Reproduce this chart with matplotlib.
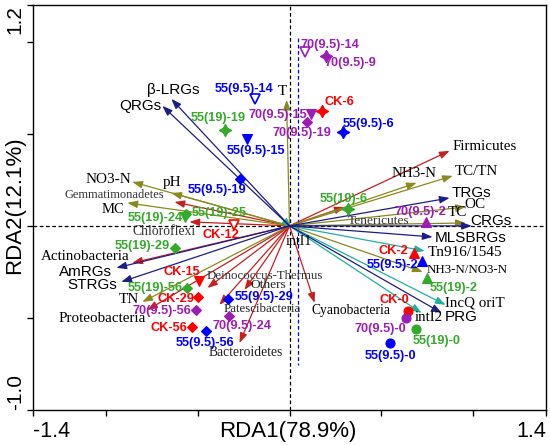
import matplotlib
matplotlib.use("Agg")
import matplotlib.pyplot as plt

# ---------------- data ----------------
# ARGs (navy arrows)
arg_names = ["β-LRGs", "QRGs", "TRGs", "CRGs", "MLSBRGs", "PRG", "AmRGs", "STRGs"]
arg_x = [-0.645, -0.694, 0.874, 0.995, 0.781, 0.831, -0.945, -0.918]
arg_y = [0.690, 0.652, 0.152, 0.000, -0.060, -0.473, -0.228, -0.304]

# bacterial phyla (red arrows)
phy_names = ["Firmicutes", "Gemmatimonadetes", "Chloroflexi", "Actinobacteria",
             "Proteobacteria", "Deinococcus-Thermus", "Others", "Patescibacteria",
             "Bacteroidetes", "Cyanobacteria", "Tenericutes"]
phy_x = [0.874, -0.628, -0.546, -0.858, -0.776, -0.448, -0.246, -0.383, -0.273, 0.137, 0.301]
phy_y = [0.408, 0.130, 0.022, -0.201, -0.457, -0.337, -0.348, -0.429, -0.636, -0.418, 0.103]

# environmental factors (olive arrows)
env_names = ["T", "NO3-N", "pH", "MC", "NH3-N", "TC/TN", "OC", "TC", "TN", "NH3-N/NO3-N"]
env_x = [-0.016, -0.858, -0.645, -0.885, 0.694, 0.891, 0.962, 0.962, -0.803, 0.727]
env_y = [0.685, 0.239, 0.179, 0.125, 0.234, 0.272, 0.103, 0.016, -0.413, -0.250]

# MGEs (teal arrows)
mge_names = ["Tn916/1545", "IncQ oriT", "intI2", "intI1"]
mge_x = [0.738, 0.852, 0.721, 0.011]
mge_y = [-0.136, -0.429, -0.473, -0.011]

# samples
samp_names = ["CK-0", "70(9.5)-0", "55(19)-0", "55(9.5)-0",
              "CK-2", "55(9.5)-2", "55(19)-2", "70(9.5)-2",
              "CK-6", "55(9.5)-6", "55(19)-6", "70(9.5)-9",
              "70(9.5)-14", "55(9.5)-14", "55(9.5)-15", "70(9.5)-15",
              "70(9.5)-19", "55(19)-19", "55(9.5)-19", "55(19)-24",
              "55(19)-25", "70(9.5)-24", "CK-12", "CK-15",
              "55(19)-29", "CK-29", "55(9.5)-29", "55(19)-56",
              "70(9.5)-56", "CK-56", "55(9.5)-56"]
samp_x = [0.645, 0.634, 0.689, 0.546,
          0.678, 0.721, 0.749, 0.743,
          0.175, 0.290, 0.317, 0.197,
          0.087, -0.186, -0.230, 0.115,
          0.098, -0.350, -0.268, -0.568,
          -0.563, -0.328, -0.301, -0.492,
          -0.623, -0.497, -0.333, -0.557,
          -0.508, -0.530, -0.454]
samp_y = [-0.462, -0.500, -0.560, -0.636,
          -0.147, -0.190, -0.283, 0.022,
          0.625, 0.511, 0.092, 0.924,
          0.946, 0.690, 0.473, 0.609,
          0.565, 0.522, 0.255, 0.049,
          0.065, -0.489, 0.005, -0.299,
          -0.120, -0.386, -0.397, -0.337,
          -0.457, -0.549, -0.571]

x_label = "RDA1(78.9%)"
y_label = "RDA2(12.1%)"

# ---------------- styles ----------------
C_NAVY = "#1c1c8a"
C_RED = "#c81e1e"
C_OLIVE = "#8a8a1c"
C_TEAL = "#1fb0a0"
group_color = {"CK": "#ff0000", "55(9.5)": "#0000ff", "55(19)": "#33aa2a", "70(9.5)": "#9c1cb4"}

STAR4 = (4, 1, 0)
def marker_of(name):
    day = name.split("-")[-1]
    if name in ("55(19)-19",):
        return STAR4, 9, True
    if day == "0":
        return "o", 6.5, True
    if day == "2":
        return "^", 6.5, True
    if day in ("6", "9"):
        return STAR4, 9, True
    if name in ("70(9.5)-14", "55(9.5)-14", "CK-12"):
        return "v", 6.5, False
    if name in ("55(9.5)-15", "70(9.5)-15", "55(19)-24", "CK-15"):
        return "v", 6.5, True
    return "D", 5.5, True

def group_of(name):
    return name.rsplit("-", 1)[0]

# label offsets in pixels (dx, dy up), horizontal alignment
samp_lab = {
    "CK-0": (-13, 11, "center"), "70(9.5)-0": (1, -11, "right"),
    "55(19)-0": (-3, -12, "left"), "55(9.5)-0": (1, -13, "center"),
    "CK-2": (-5, 2, "right"), "55(9.5)-2": (-3, -4, "right"),
    "55(19)-2": (3, -10, "left"), "70(9.5)-2": (-5, 10, "center"),
    "CK-6": (3, 9, "left"), "55(9.5)-6": (0, 8, "left"),
    "55(19)-6": (-4, 10, "center"), "70(9.5)-9": (-1, -7, "left"),
    "70(9.5)-14": (-5, 7, "left"), "55(9.5)-14": (-11, 10, "center"),
    "55(9.5)-15": (9, -12, "center"), "70(9.5)-15": (-3, -1, "right"),
    "70(9.5)-19": (-6, -11, "center"), "55(19)-19": (-7, 12, "center"),
    "55(9.5)-19": (-23, -11, "center"), "55(19)-24": (-3, -1, "right"),
    "55(19)-25": (5, 1, "left"), "70(9.5)-24": (13, -10, "center"),
    "CK-12": (-13, -10, "center"), "CK-15": (-18, 9, "center"),
    "55(19)-29": (-6, 2, "right"), "CK-29": (-4, -2, "right"),
    "55(9.5)-29": (6, 2, "left"), "55(19)-56": (-5, 0, "right"),
    "70(9.5)-56": (-5, -1, "right"), "CK-56": (-5, -1, "right"),
    "55(9.5)-56": (-1, -12, "center"),
}

# arrow label: (dx, dy, ha, family, size, color)
SANS = "Liberation Sans"
SERIF = "Liberation Serif"
arr_lab = {
    "β-LRGs": (2, 9, "center", SANS, 11, "black"),
    "QRGs": (-1, 0, "right", SANS, 11, "black"),
    "TRGs": (2, 5, "left", SANS, 11, "black"),
    "CRGs": (-2, 5, "left", SANS, 11, "black"),
    "MLSBRGs": (2, -1, "left", SANS, 11, "black"),
    "PRG": (3, -4, "left", SANS, 11, "black"),
    "AmRGs": (-4, -4, "right", SANS, 11, "black"),
    "STRGs": (-4, -3, "right", SANS, 11, "black"),
    "Firmicutes": (3, 4, "left", SERIF, 10.8, "black"),
    "Gemmatimonadetes": (-10, 7, "right", SERIF, 9, "#333333"),
    "Chloroflexi": (-25, -10, "center", SERIF, 9.8, "#333333"),
    "Actinobacteria": (-3, 6, "right", SERIF, 10.8, "black"),
    "Proteobacteria": (-1, -8, "right", SERIF, 10.8, "black"),
    "Deinococcus-Thermus": (-1, 12, "left", SERIF, 9.3, "#333333"),
    "Others": (6, 5, "left", SERIF, 9.7, "#222222"),
    "Patescibacteria": (4, -4, "left", SERIF, 9.3, "#222222"),
    "Bacteroidetes": (6, -10, "center", SERIF, 9.8, "#222222"),
    "Cyanobacteria": (-3, -8, "left", SERIF, 9.8, "black"),
    "Tenericutes": (3, -14, "left", SERIF, 9.6, "#333333"),
    "T": (-4, 8, "center", SERIF, 11, "black"),
    "NO3-N": (-1, 2, "right", SERIF, 11, "black"),
    "pH": (1, 10, "center", SERIF, 11, "black"),
    "MC": (-3, -7, "right", SERIF, 10.5, "black"),
    "NH3-N": (-3, 9, "center", SERIF, 10.8, "black"),
    "TC/TN": (2, 4, "left", SERIF, 10.8, "black"),
    "OC": (-1, 2, "left", SERIF, 11, "black"),
    "TC": (1, 10, "right", SERIF, 11, "black"),
    "TN": (-3, 2, "right", SERIF, 11, "black"),
    "NH3-N/NO3-N": (4, 2, "left", SERIF, 9.3, "black"),
    "Tn916/1545": (3, -2, "left", SERIF, 11, "black"),
    "IncQ oriT": (-1, 2, "left", SERIF, 10.8, "black"),
    "intI2": (-7, -5, "left", SERIF, 10.8, "black"),
    "intI1": (-6, -14, "left", SERIF, 10, "black"),
}

# ---------------- figure ----------------
fig = plt.figure(figsize=(5.5, 4.45), dpi=100)
ax = fig.add_axes([33 / 550, 1 - 410 / 445, (546 - 33) / 550, (410 - 5) / 445])
ax.set_xlim(-1.4, 1.4)
ax.set_ylim(-1.0, 1.2)

# reference lines
ax.axhline(0, color="black", lw=0.9, ls=(0, (3, 2)), zorder=1)
ax.axvline(0, color="black", lw=0.9, ls=(0, (3, 2)), zorder=1)
ax.plot([0.044, 0.044], [1.02, -0.755], color="#0000ff", lw=0.9, ls=(0, (3, 2)), zorder=1)

def draw_arrows(names, xs, ys, color):
    for n, x, y in zip(names, xs, ys):
        ax.annotate("", xy=(x, y), xytext=(0, 0),
                    arrowprops=dict(arrowstyle="-|>,head_length=0.6,head_width=0.22",
                                    color=color, lw=0.9, shrinkA=0, shrinkB=0),
                    zorder=2)
        dx, dy, ha, fam, sz, col = arr_lab[n]
        ax.annotate(n, xy=(x, y), xytext=(dx, dy), textcoords="offset pixels",
                    ha=ha, va="center", fontfamily=fam, fontsize=sz, color=col, zorder=4)

draw_arrows(phy_names, phy_x, phy_y, C_RED)
draw_arrows(env_names, env_x, env_y, C_OLIVE)
draw_arrows(mge_names, mge_x, mge_y, C_TEAL)
draw_arrows(arg_names, arg_x, arg_y, C_NAVY)

for n, x, y in zip(samp_names, samp_x, samp_y):
    c = group_color[group_of(n)]
    m, ms, filled = marker_of(n)
    ax.plot([x], [y], marker=m, ms=ms, color=c, mfc=c if filled else "white",
            mec=c, mew=1.2 if not filled else 0.8, ls="none", zorder=5)
    dx, dy, ha = samp_lab[n]
    ax.annotate(n, xy=(x, y), xytext=(dx, dy), textcoords="offset pixels",
                ha=ha, va="center", fontfamily=SANS, fontweight="bold",
                fontsize=9.2, color=c, zorder=6)

# axes styling
for s in ax.spines.values():
    s.set_linewidth(1.0)
ax.set_xticks([-1.4, -1.0, -0.5, 0, 0.5, 1.0, 1.4])
ax.set_xticklabels(["-1.4", "", "", "", "", "", "1.4"], fontfamily=SANS, fontsize=15.5)
ax.set_yticks([-1.0, -0.5, 0, 0.5, 1.0, 1.2])
ax.set_yticklabels(["-1.0", "", "", "", "", "1.2"], fontfamily=SANS, fontsize=15,
                   rotation=90)
xl = ax.get_xticklabels()
xl[0].set_ha("left")
xl[-1].set_ha("right")
yl = ax.get_yticklabels()
yl[0].set_va("bottom")
yl[-1].set_va("top")
ax.tick_params(direction="out", length=4, width=1)
ax.tick_params(axis="x", pad=4)
ax.tick_params(axis="y", pad=2)

fig.text(288 / 550, 1 - 432 / 445, x_label, ha="center", va="center",
         fontfamily=SANS, fontsize=16)
fig.text(15 / 550, 1 - 205 / 445, y_label, ha="center", va="center", rotation=90,
         fontfamily=SANS, fontsize=16)

fig.savefig("out.png", dpi=100)
